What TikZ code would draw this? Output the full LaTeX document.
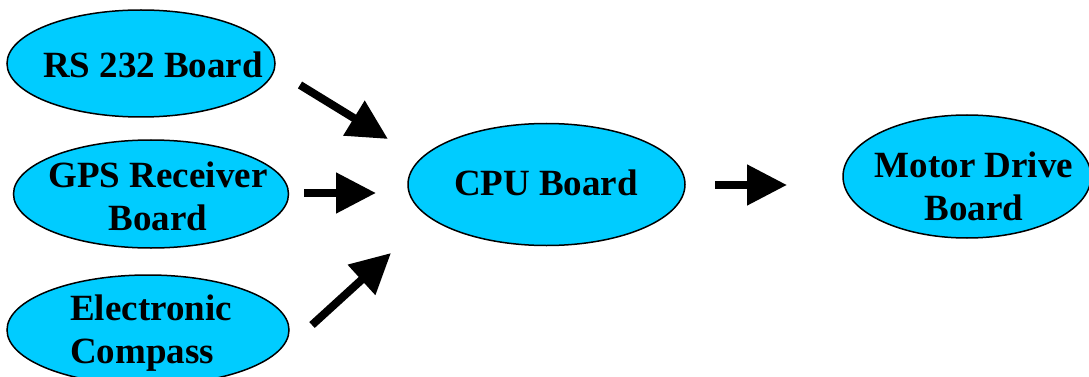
\documentclass[tikz,border=0pt]{standalone}
\usepackage{fontspec}
\setmainfont{Liberation Serif}
\usetikzlibrary{shapes.geometric,arrows.meta}
\definecolor{boardfill}{RGB}{0,204,255}
\begin{document}
\begin{tikzpicture}[x=1pt,y=-1pt,
  board/.style={ellipse,draw=black,line width=1.5pt,fill=boardfill,inner sep=0pt},
  lbl/.style={font=\fontsize{37}{43}\selectfont\bfseries,inner sep=0pt,text=black},
  flow/.style={line width=8pt,-{Triangle[length=40pt,width=39pt]}}]
\useasboundingbox (0,0) rectangle (1089,377);
% ellipses
\node[board,minimum width=268pt,minimum height=107pt] (rs) at (141,63.5) {};
\node[board,minimum width=275pt,minimum height=108pt] (gps) at (151,194) {};
\node[board,minimum width=282pt,minimum height=110pt] (ec) at (148,330) {};
\node[board,minimum width=277pt,minimum height=122pt] (cpu) at (546.5,184.5) {};
\node[board,minimum width=248pt,minimum height=123pt] (md) at (967,176.5) {};
% labels
\node[lbl,anchor=base] (rst) at (153,78) {RS 232 Board};
\node[lbl,align=center] (gpst) at (158,196.5) {GPS Receiver\\Board};
\node[lbl,align=left,anchor=west] (ect) at (70,333.5) {Electronic\\Compass};
\node[lbl,anchor=base] (cput) at (546,195) {CPU Board};
\node[lbl,align=center] (mdt) at (974,186.5) {Motor Drive\\Board};
% arrow ends
\coordinate (a1s) at (300,85);  \coordinate (a1e) at (388,139);
\coordinate (a2s) at (304,193); \coordinate (a2e) at (376,193);
\coordinate (a3s) at (312,325); \coordinate (a3e) at (391,253);
\coordinate (a4s) at (715,185); \coordinate (a4e) at (787,185);
\draw[flow] (a1s) -- (a1e);
\draw[flow] (a2s) -- (a2e);
\draw[flow] (a3s) -- (a3e);
\draw[flow] (a4s) -- (a4e);
\end{tikzpicture}
\end{document}
